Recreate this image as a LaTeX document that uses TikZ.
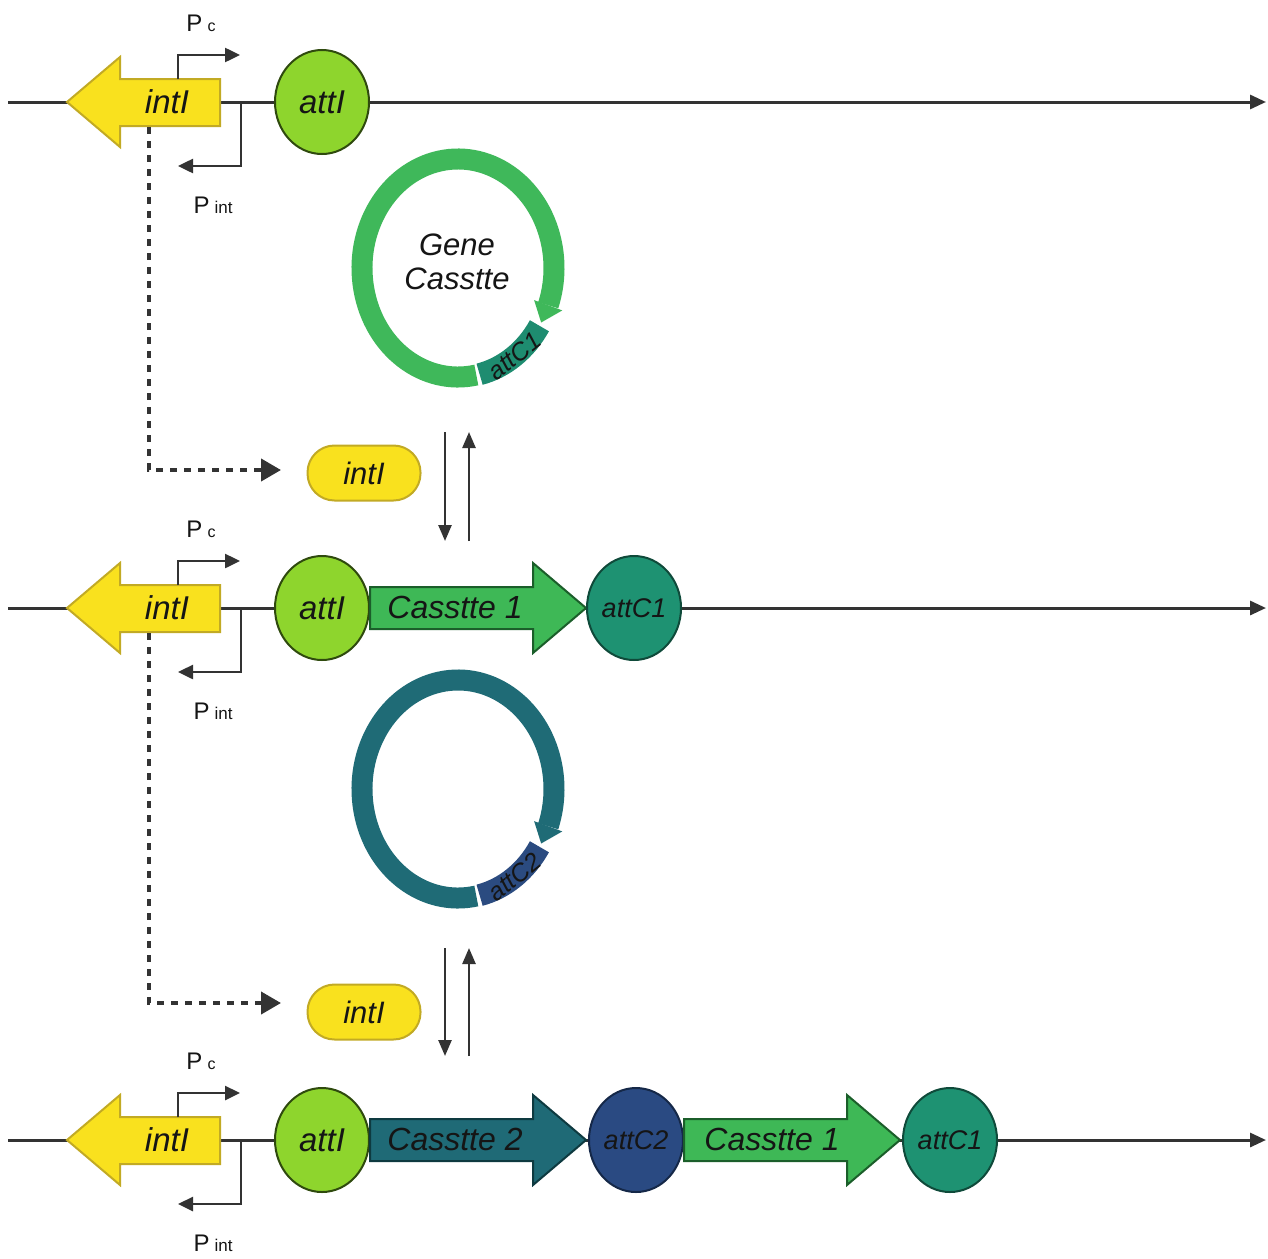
\documentclass[tikz,border=0pt]{standalone}
\usepackage{fontspec}
\setmainfont{Liberation Sans}
\usetikzlibrary{arrows.meta,shapes.geometric,calc}
\definecolor{linec}{HTML}{333333}
\definecolor{txtc}{HTML}{151515}
\definecolor{yel}{HTML}{F9E11E}
\definecolor{yelb}{HTML}{C2AA24}
\definecolor{attIc}{HTML}{8ED52D}
\definecolor{attIb}{HTML}{2F4A0E}
\definecolor{casA}{HTML}{3EB856}
\definecolor{casAb}{HTML}{1B5E2A}
\definecolor{attCa}{HTML}{1E9272}
\definecolor{attCab}{HTML}{0F4A3A}
\definecolor{casB}{HTML}{1F6A76}
\definecolor{casBb}{HTML}{0E3A40}
\definecolor{attCb}{HTML}{2A4A82}
\definecolor{attCbb}{HTML}{152848}
\definecolor{ringA}{HTML}{3FB85A}
\definecolor{blockA}{HTML}{1E8C70}
\definecolor{ringB}{HTML}{1F6B76}
\definecolor{blockB}{HTML}{2B4B80}
\newcommand\fsz[1]{\fontsize{#1}{#1}\selectfont}
\begin{document}
\begin{tikzpicture}[x=1pt,y=1pt,
  backbone/.style={draw=linec, line width=3pt, -{Triangle[length=16pt,width=14pt]}},
  prom/.style={draw=linec, line width=2.5pt, -{Triangle[length=15pt,width=14pt]}},
  dotconn/.style={draw=linec, line width=4pt, dash pattern=on 7pt off 7pt, -{Triangle[length=20pt,width=22pt]}},
  eqarrow/.style={draw=linec, line width=2.5pt, -{Triangle[length=16pt,width=13pt]}},
  intarrow/.style={fill=yel, draw=yelb, line width=2pt, line join=miter},
  lbl/.style={text=txtc, inner sep=0pt},
  bigit/.style={lbl, font=\fsz{33}\itshape},
  castext/.style={lbl, font=\fsz{32}\itshape},
  smallit/.style={lbl, font=\fsz{27}\itshape},
  plabel/.style={lbl, font=\fsz{24}},
  attInode/.style={ellipse, fill=attIc, draw=attIb, line width=2pt, minimum width=94pt, minimum height=104pt, inner sep=0pt, text=txtc, font=\fsz{33}\itshape},
  attCnode/.style={ellipse, line width=2pt, minimum width=94pt, minimum height=104pt, inner sep=0pt, text=txtc, font=\fsz{27}\itshape},
  pill/.style={rectangle, rounded corners=27pt, fill=yel, draw=yelb, line width=2pt, minimum width=113pt, minimum height=55pt, text=txtc, font=\fsz{31}\itshape},
  casA/.style={fill=casA, draw=casAb, line width=2pt, line join=miter},
  casB/.style={fill=casB, draw=casBb, line width=2pt, line join=miter}
]
\useasboundingbox[fill=white] (0,0) rectangle (1268,-1258);

% ---- three chromosome rows
\foreach \r/\yy in {1/102,2/608,3/1140}{
\begin{scope}[shift={(0,-\yy)}]
  \coordinate (bbL\r) at (8,0);
  \coordinate (bbR\r) at (1266,0);
  \draw[backbone] (bbL\r) -- (bbR\r);
  \draw[intarrow] (67,0) -- (120,45) -- (120,23) -- (220,23) -- (220,-24) -- (120,-24) -- (120,-45) -- cycle;
  \node[bigit] (intI\r) at (167,0) {intI};
  \coordinate (pcs\r) at (178,23);
  \coordinate (pce\r) at (240,47);
  \draw[prom] (pcs\r) |- (pce\r);
  \node[plabel] (pcl\r) at (201,79) {P\hspace{5pt}{\fsz{16}c}};
  \coordinate (pis\r) at (241,0);
  \coordinate (pie\r) at (178,-64);
  \draw[prom] (pis\r) |- (pie\r);
  \node[plabel] (pil\r) at (213,-103) {P\hspace{5pt}{\fsz{17}int}};
  \node[attInode] (attI\r) at (322,0) {attI};
\end{scope}
}

% ---- row 2 cassette
\draw[casA] (370,-587) -- (533,-587) -- (533,-563) -- (586,-608) -- (533,-653) -- (533,-629) -- (370,-629) -- cycle;
\node[castext] (cas1r2) at (455,-607) {Casstte 1};
\node[attCnode, fill=attCa, draw=attCab] (attC1r2) at (634,-608) {attC1};

% ---- row 3 cassettes
\draw[casB] (370,-1119) -- (533,-1119) -- (533,-1095) -- (586,-1140) -- (533,-1185) -- (533,-1161) -- (370,-1161) -- cycle;
\node[castext] (cas2r3) at (455,-1139) {Casstte 2};
\node[attCnode, fill=attCb, draw=attCbb] (attC2r3) at (636,-1140) {attC2};
\draw[casA] (684,-1119) -- (847,-1119) -- (847,-1095) -- (900,-1140) -- (847,-1185) -- (847,-1161) -- (684,-1161) -- cycle;
\node[castext] (cas1r3) at (772,-1139) {Casstte 1};
\node[attCnode, fill=attCa, draw=attCab] (attC1r3) at (950,-1140) {attC1};

% ---- circular cassettes
\foreach \k/\cy/\rc/\bc/\lab in {1/268/ringA/blockA/attC1, 2/789/ringB/blockB/attC2}{
  \coordinate (cc\k) at (458,-\cy);
  \draw[\rc, line width=21pt] ($(cc\k)+(281:96 and 109)$) arc[start angle=281, end angle=-20, x radius=96, y radius=109];
  \fill[\rc] ($(cc\k)+(-20:111 and 124)$) -- ($(cc\k)+(-20:81 and 94)$) -- ($(cc\k)+(-30:96 and 109)$) -- cycle;
  \draw[\bc, line width=22pt] ($(cc\k)+(-77:96 and 109)$) arc[start angle=-77, end angle=-32, x radius=96, y radius=109];
  \node[lbl, font=\fsz{25}\itshape, rotate=39] (blk\k) at ($(cc\k)+(-54:96 and 109)$) {\lab};
}
\node[lbl, font=\fsz{31}\itshape, align=center] (gc) at (457,-262) {Gene\\[3pt]Casstte};

% ---- integrase proteins
\node[pill] (pill1) at (364,-473) {intI};
\node[pill] (pill2) at (364,-1012) {intI};

\coordinate (d1s) at (149,-127);
\coordinate (d1e) at (281,-470);
\draw[dotconn] (d1s) |- (d1e);
\coordinate (d2s) at (149,-633);
\coordinate (d2e) at (281,-1003);
\draw[dotconn] (d2s) |- (d2e);

% ---- equilibrium arrows
\coordinate (e1a) at (445,-432);
\coordinate (e1b) at (445,-541);
\coordinate (e1c) at (469,-541);
\coordinate (e1d) at (469,-432);
\draw[eqarrow] (e1a) -- (e1b);
\draw[eqarrow] (e1c) -- (e1d);
\coordinate (e2a) at (445,-948);
\coordinate (e2b) at (445,-1056);
\coordinate (e2c) at (469,-1056);
\coordinate (e2d) at (469,-948);
\draw[eqarrow] (e2a) -- (e2b);
\draw[eqarrow] (e2c) -- (e2d);
\end{tikzpicture}
\end{document}
